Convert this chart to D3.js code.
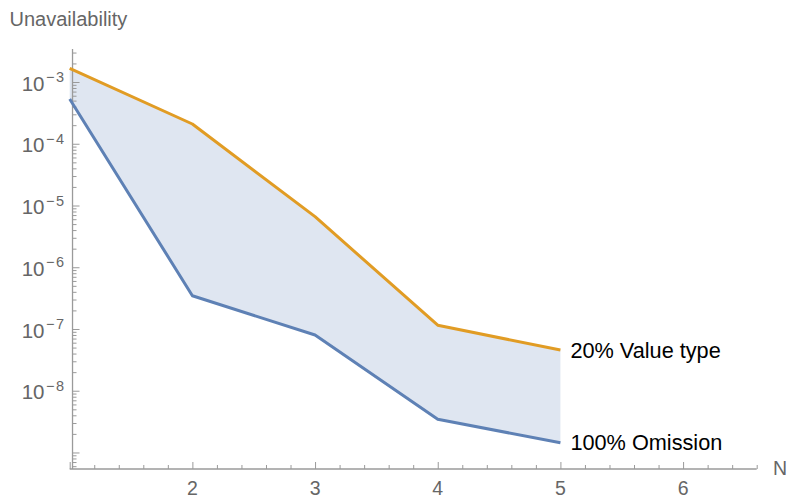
<!DOCTYPE html>
<html>
<head>
<meta charset="utf-8">
<script src="https://cdn.jsdelivr.net/npm/d3@7"></script>
<style>
  html, body { margin: 0; padding: 0; background: #fff; }
  svg { display: block; font-family: "Liberation Sans", Arial, sans-serif; }
</style>
</head>
<body>
<svg id="chart" width="790" height="500"></svg>
<script>
// ---- data ----
const nValues = [1, 2, 3, 4, 5];
const valueType20 = [1.67e-3, 2.09e-4, 6.6e-6, 1.15e-7, 4.56e-8];
const omission100 = [5.3e-4, 3.46e-7, 7.98e-8, 3.44e-9, 1.44e-9];
const seriesNames = ["20% Value type", "100% Omission"];
const xTickLabels = [2, 3, 4, 5, 6];
const yMajorExponents = [-3, -4, -5, -6, -7, -8];
const xAxisTitle = "N";
const yAxisTitle = "Unavailability";

// ---- layout ----
const svg = d3.select("#chart");
const xDomain = [1, 6.6];
const yDomain = [5.4e-10, 3.3e-3];
const x = d3.scaleLinear().domain(xDomain).range([69.7, 756.7]);
const y = d3.scaleLog().domain(yDomain).range([469, 50]);
const axisX = 1.023;          // where the vertical axis crosses
const axisColor = "#9a9a9a";
const labelColor = "#666666";
const orange = "#E19C24";
const blue = "#5E81B5";
const fillColor = "#DFE6F1";

const rows = nValues.map((n, i) => ({ n, hi: valueType20[i], lo: omission100[i] }));

// filling between curves
svg.append("path")
  .datum(rows)
  .attr("fill", fillColor)
  .attr("d", d3.area().x(d => x(d.n)).y0(d => y(d.lo)).y1(d => y(d.hi)));

// ---- axes ----
const x0 = x(axisX);
const yBase = y(yDomain[0]);

// y minor ticks
const yMinor = [];
for (let e = -10; e <= -3; e++) {
  for (let m = 2; m <= 9; m++) {
    const v = m * Math.pow(10, e);
    if (v >= yDomain[0] && v <= yDomain[1]) yMinor.push(v);
  }
}
const yMajorAll = [-9, ...yMajorExponents].map(e => Math.pow(10, e));

const gy = svg.append("g").attr("transform", `translate(${x0},0)`);
gy.append("g").call(d3.axisLeft(y).tickValues(yMinor).tickSize(-4).tickFormat(""))
  .call(g => g.select(".domain").remove());
gy.append("g").call(d3.axisLeft(y).tickValues(yMajorAll).tickSize(-7).tickFormat(""))
  .call(g => g.select(".domain").remove());
gy.selectAll(".tick line").attr("stroke", axisColor);
gy.append("line").attr("x1", 0).attr("x2", 0).attr("y1", y(yDomain[1]) - 1).attr("y2", yBase)
  .attr("stroke", axisColor).attr("stroke-width", 1.3);

// y labels with superscript
gy.selectAll(".lab")
  .data(yMajorExponents)
  .enter().append("text")
  .attr("class", "lab")
  .attr("x", -8.5)
  .attr("y", e => y(Math.pow(10, e)) + 8.7)
  .attr("text-anchor", "end")
  .attr("fill", labelColor)
  .attr("font-size", 20.5)
  .each(function (e) {
    const t = d3.select(this);
    t.append("tspan").text("10");
    t.append("tspan").attr("dy", -8.5).attr("dx", 1.5).attr("font-size", 14.5).text("\u2212");
    t.append("tspan").attr("dx", 1.5).attr("font-size", 14.5).text(Math.abs(e));
  });

// x ticks
const xMinor = d3.range(1, 6.61, 0.2).filter(v => Math.abs(v - Math.round(v)) > 1e-6);
const xMajor = [1, ...xTickLabels];
const gx = svg.append("g").attr("transform", `translate(0,${yBase})`);
gx.append("g").call(d3.axisBottom(x).tickValues(xMinor).tickSize(-4).tickFormat(""))
  .call(g => g.select(".domain").remove());
gx.append("g").call(d3.axisBottom(x).tickValues(xMajor).tickSize(-7).tickFormat(""))
  .call(g => g.select(".domain").remove());
gx.selectAll(".tick line").attr("stroke", axisColor);
gx.append("line").attr("x1", x(xDomain[0])).attr("x2", x(xDomain[1])).attr("y1", 0).attr("y2", 0)
  .attr("stroke", axisColor).attr("stroke-width", 1.3);
gx.selectAll(".xlab")
  .data(xTickLabels)
  .enter().append("text")
  .attr("x", d => x(d))
  .attr("y", 26)
  .attr("text-anchor", "middle")
  .attr("fill", labelColor)
  .attr("font-size", 19.5)
  .text(d => d);

// axis titles
svg.append("text").attr("x", 773).attr("y", 474.5).attr("fill", labelColor)
  .attr("font-size", 19.5).text(xAxisTitle);
svg.append("text").attr("x", 9.5).attr("y", 26).attr("fill", labelColor)
  .attr("font-size", 20).text(yAxisTitle);

// ---- lines ----
const line = key => d3.line().x(d => x(d.n)).y(d => y(d[key]));
svg.append("path").datum(rows).attr("fill", "none").attr("stroke", blue)
  .attr("stroke-width", 3).attr("stroke-linejoin", "round").attr("d", line("lo"));
svg.append("path").datum(rows).attr("fill", "none").attr("stroke", orange)
  .attr("stroke-width", 3).attr("stroke-linejoin", "round").attr("d", line("hi"));

// ---- end labels ----
const last = rows[rows.length - 1];
svg.append("text").attr("x", x(last.n) + 10).attr("y", y(last.hi) + 7.5)
  .attr("font-size", 21.7).attr("fill", "#000").text(seriesNames[0]);
svg.append("text").attr("x", x(last.n) + 10).attr("y", y(last.lo) + 7.5)
  .attr("font-size", 21.7).attr("fill", "#000").text(seriesNames[1]);
</script>
</body>
</html>
